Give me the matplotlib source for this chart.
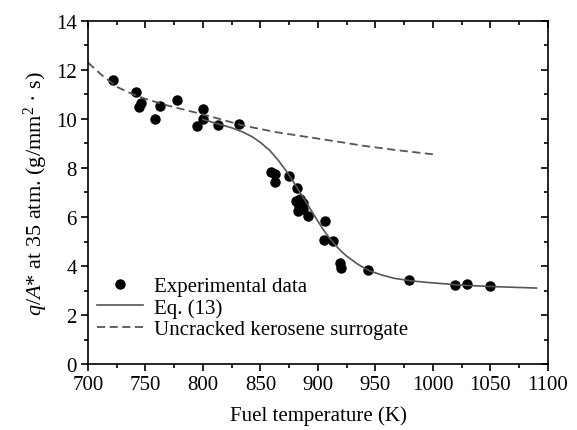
import matplotlib
matplotlib.use('Agg')
import matplotlib.pyplot as plt
from matplotlib.ticker import MultipleLocator

plt.rcParams['font.family'] = ['Liberation Serif', 'DejaVu Serif']
plt.rcParams['mathtext.fontset'] = 'custom'
plt.rcParams['mathtext.rm'] = 'Liberation Serif'
plt.rcParams['mathtext.it'] = 'Liberation Serif:italic'

# experimental points (K, g/mm2 s)
exp_temp = [721.5, 741.7, 745.8, 744.3, 762.3, 758.5, 777, 799.7, 799.7, 794.8,
            813.3, 831, 859, 862.9, 862.6, 875, 881.5, 880.6, 884.3, 886.7,
            883.8, 883, 886.7, 891, 906.1, 905.5, 913.3, 919.1, 920, 943.8,
            979.4, 1019.4, 1029.3, 1049.6]
exp_q = [11.60, 11.11, 10.64, 10.48, 10.54, 10.00, 10.78, 10.40, 9.99, 9.73,
         9.76, 9.81, 7.85, 7.76, 7.44, 7.69, 7.18, 6.64, 6.73, 6.56,
         6.44, 6.26, 6.33, 6.05, 5.82, 5.07, 5.03, 4.11, 3.92, 3.82,
         3.43, 3.22, 3.25, 3.17]

# Eq. (13) curve
eq_temp = [800, 813, 825, 835, 843, 850, 858, 865, 870, 875, 880, 885, 890, 895, 900,
           905, 910, 915, 920, 925, 935, 945, 955, 966, 980, 995, 1024, 1052, 1090]
eq_q = [9.98, 9.80, 9.64, 9.46, 9.27, 9.04, 8.72, 8.34, 8.03, 7.70, 7.33, 6.95, 6.58,
        6.20, 5.82, 5.46, 5.14, 4.86, 4.61, 4.40, 4.06, 3.80, 3.64, 3.50, 3.40,
        3.33, 3.22, 3.16, 3.10]

# uncracked kerosene surrogate
kero_temp = [700, 713, 726, 738, 750, 770, 793, 810, 835, 864, 893, 918, 939, 968, 1000]
kero_q = [12.30, 11.75, 11.29, 11.03, 10.82, 10.54, 10.27, 10.06, 9.73, 9.46,
          9.25, 9.07, 8.91, 8.73, 8.56]

fig = plt.figure(figsize=(5.77, 4.31), dpi=100)
ax = fig.add_axes([0.1525, 0.1531, 0.7972, 0.7959])

ax.plot(exp_temp, exp_q, 'o', color='black', markersize=6.5, label='Experimental data')
ax.plot(eq_temp, eq_q, '-', color='#555555', linewidth=1.2, label='Eq. (13)')
ax.plot(kero_temp, kero_q, '--', color='#555555', linewidth=1.3, dashes=(4.5, 2.5),
        label='Uncracked kerosene surrogate')

ax.set_xlim(700, 1100)
ax.set_ylim(0, 14)
ax.xaxis.set_major_locator(MultipleLocator(50))
ax.xaxis.set_minor_locator(MultipleLocator(25))
ax.yaxis.set_major_locator(MultipleLocator(2))
ax.yaxis.set_minor_locator(MultipleLocator(1))

ax.tick_params(which='both', direction='out', labelsize=15, width=1.2)
ax.tick_params(which='major', length=5, pad=3)
ax.tick_params(which='minor', length=3)
ax.tick_params(which='both', top=True, right=True)
for spine in ax.spines.values():
    spine.set_linewidth(1.2)

# top/right ticks point inwards
for t in ax.xaxis.get_major_ticks() + ax.xaxis.get_minor_ticks():
    t.tick2line.set_marker(3)
for t in ax.yaxis.get_major_ticks() + ax.yaxis.get_minor_ticks():
    t.tick2line.set_marker(0)

ax.set_xlabel('Fuel temperature (K)', fontsize=15, labelpad=8)
ax.set_ylabel('$q/A$* at 35 atm. (g/mm$^2$ · s)', fontsize=16, labelpad=4)

ax.legend(loc='lower left', bbox_to_anchor=(0.02, 0.072), frameon=False, fontsize=15,
          handlelength=2.2, handletextpad=0.55, borderpad=0, borderaxespad=0,
          labelspacing=0.1)

fig.savefig('out.png', dpi=100)
